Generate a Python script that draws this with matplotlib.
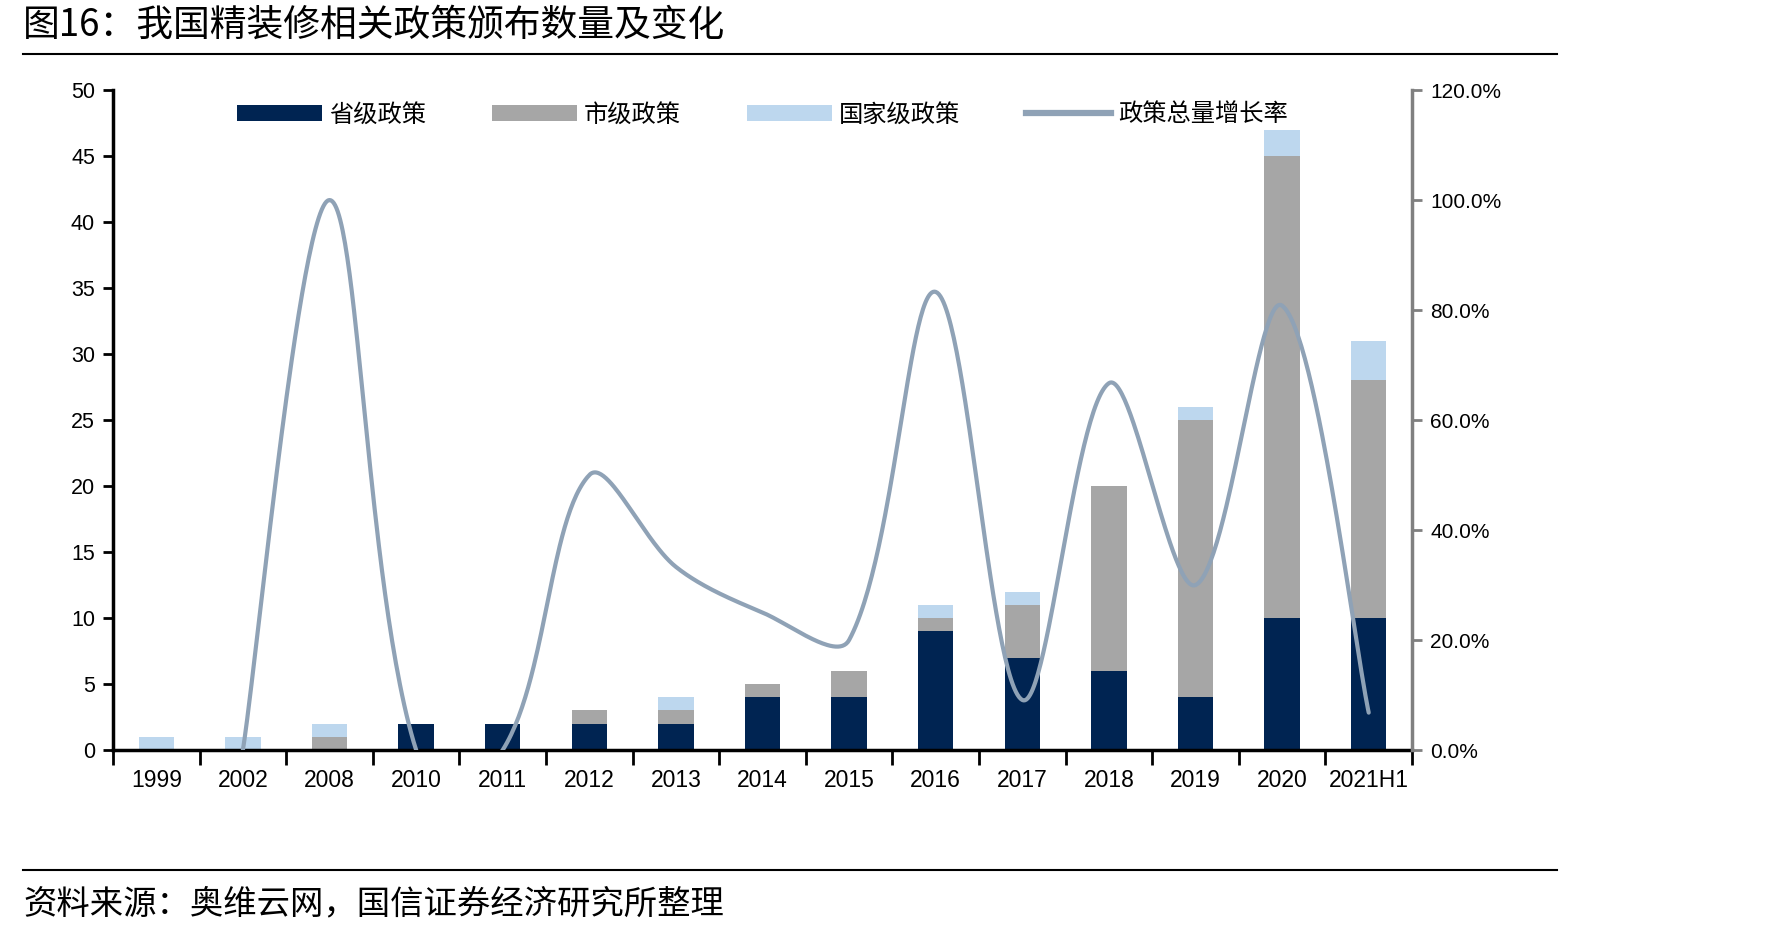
import matplotlib
matplotlib.use("Agg")
import matplotlib.pyplot as plt
from matplotlib.patches import Patch
from matplotlib.lines import Line2D
from matplotlib.ticker import FuncFormatter, MultipleLocator
import numpy as np

plt.rcParams['font.family'] = ['Noto Sans CJK SC', 'DejaVu Sans']

years = ["1999", "2002", "2008", "2010", "2011", "2012", "2013", "2014",
         "2015", "2016", "2017", "2018", "2019", "2020", "2021H1"]
provincial = [0, 0, 0, 2, 2, 2, 2, 4, 4, 9, 7, 6, 4, 10, 10]
municipal = [0, 0, 1, 0, 0, 1, 1, 1, 2, 1, 4, 14, 21, 35, 18]
national = [1, 1, 1, 0, 0, 0, 1, 0, 0, 1, 1, 0, 1, 2, 3]
# growth rate of total policy count (no value for 1999)
growth = [None, 0.0, 1.0, 0.0, 0.0, 0.5, 0.333, 0.25, 0.2, 0.833, 0.091,
          0.667, 0.30, 0.808, 0.068]

C_PROV = "#002452"
C_MUNI = "#A6A6A6"
C_NAT = "#BDD7EE"
C_LINE = "#8FA2B6"
NUM_FONT = ['Liberation Sans', 'DejaVu Sans']
NARROW_FONT = ['Liberation Sans Narrow', 'Liberation Sans', 'DejaVu Sans']


def smooth(xs, ys, sx=86.6, sy=550.0, steps=60):
    """Excel-like smoothed line: bezier handles scaled by neighbouring
    segment lengths, worked out in screen-like units (sx, sy px per unit)."""
    pts = np.column_stack([np.asarray(xs) * sx, np.asarray(ys) * sy])
    n = len(pts)
    out_h = np.zeros_like(pts)
    in_h = np.zeros_like(pts)
    for i in range(n):
        prev = pts[i - 1] if i > 0 else pts[i]
        nxt = pts[i + 1] if i < n - 1 else pts[i]
        d1 = np.linalg.norm(pts[i] - prev)
        d2 = np.linalg.norm(nxt - pts[i])
        tan = nxt - prev
        if i == 0 or i == n - 1:
            out_h[i] = pts[i] + tan / 6
            in_h[i] = pts[i] - tan / 6
            continue
        tot = d1 + d2 if d1 + d2 > 0 else 1
        out_h[i] = pts[i] + tan * (d2 / tot) / 3
        in_h[i] = pts[i] - tan * (d1 / tot) / 3
    segs = []
    t = np.linspace(0, 1, steps)[:, None]
    for i in range(n - 1):
        p1, c1, c2, p2 = pts[i], out_h[i], in_h[i + 1], pts[i + 1]
        seg = ((1 - t) ** 3) * p1 + 3 * ((1 - t) ** 2) * t * c1 + 3 * (1 - t) * t ** 2 * c2 + t ** 3 * p2
        segs.append(seg if i == 0 else seg[1:])
    res = np.vstack(segs)
    return res[:, 0] / sx, res[:, 1] / sy


fig = plt.figure(figsize=(17.71, 9.38), dpi=100)
ax = fig.add_axes([0.0638, 0.2004, 0.7335, 0.7036])
ax2 = ax.twinx()

x = np.arange(len(years))
prov = np.array(provincial)
muni = np.array(municipal)
nat = np.array(national)
w = 0.41
ax.bar(x, prov, w, color=C_PROV, zorder=2)
ax.bar(x, muni, w, bottom=prov, color=C_MUNI, zorder=2)
ax.bar(x, nat, w, bottom=prov + muni, color=C_NAT, zorder=2)

gx = [i for i, g in enumerate(growth) if g is not None]
gy = [g for g in growth if g is not None]
lx, ly = smooth(gx, gy)
ax2.plot(lx, ly, color=C_LINE, lw=3.0, solid_capstyle="round", zorder=3)

ax.set_xlim(-0.5, len(years) - 0.5)
ax.set_ylim(0, 50)
ax2.set_ylim(0, 1.2)
ax.yaxis.set_major_locator(MultipleLocator(5))
ax2.yaxis.set_major_locator(MultipleLocator(0.2))
ax2.yaxis.set_major_formatter(FuncFormatter(lambda v, p: f"{v * 100:.1f}%"))

# x axis: labels at centres, tick marks at category boundaries
ax.set_xticks(x)
ax.set_xticklabels(years)
ax.set_xticks(np.arange(-0.5, len(years), 1), minor=True)
ax.tick_params(axis="x", which="major", length=0, pad=14)
ax.tick_params(axis="x", which="minor", length=11, width=2, color="black", direction="out")
for lab in ax.get_xticklabels():
    lab.set_family(NARROW_FONT)
    lab.set_fontsize(16.5)

ax.tick_params(axis="y", length=7, width=2, color="black", pad=6, labelsize=15.5)
for lab in ax.get_yticklabels():
    lab.set_family(NUM_FONT)
ax2.tick_params(axis="y", length=7, width=2, color="#808080", pad=6, labelsize=15)
for lab in ax2.get_yticklabels():
    lab.set_family(NUM_FONT)

for a in (ax, ax2):
    a.spines["top"].set_visible(False)
ax.spines["left"].set_linewidth(2.5)
ax.spines["bottom"].set_linewidth(2.5)
ax.spines["right"].set_visible(False)
ax2.spines["left"].set_visible(False)
ax2.spines["bottom"].set_visible(False)
ax2.spines["right"].set_color("#808080")
ax2.spines["right"].set_linewidth(2.5)
ax.set_zorder(ax2.get_zorder() - 1)
ax.patch.set_visible(False)
ax2.set_zorder(1)

handles = [Patch(facecolor=C_PROV), Patch(facecolor=C_MUNI), Patch(facecolor=C_NAT),
           Line2D([], [], color=C_LINE, lw=4.5)]
labels = ["省级政策", "市级政策", "国家级政策", "政策总量增长率"]
ax2.legend(handles, labels, loc="upper center", bbox_to_anchor=(0.5, 1.016), ncol=4,
           frameon=False, fontsize=17.5, handlelength=3.5, handleheight=0.6,
           handletextpad=0.3, columnspacing=2.7)

fig.text(0.013, 0.973, "图16：我国精装修相关政策颁布数量及变化", fontsize=26.5,
         ha="left", va="center", fontweight="medium")
fig.add_artist(Line2D([0.013, 0.879], [0.9424, 0.9424], color="black", lw=1.5))
fig.add_artist(Line2D([0.013, 0.879], [0.0725, 0.0725], color="black", lw=1.5))
fig.text(0.013, 0.036, "资料来源：奥维云网，国信证券经济研究所整理", fontsize=24,
         ha="left", va="center")

fig.savefig("out.png", dpi=100)
